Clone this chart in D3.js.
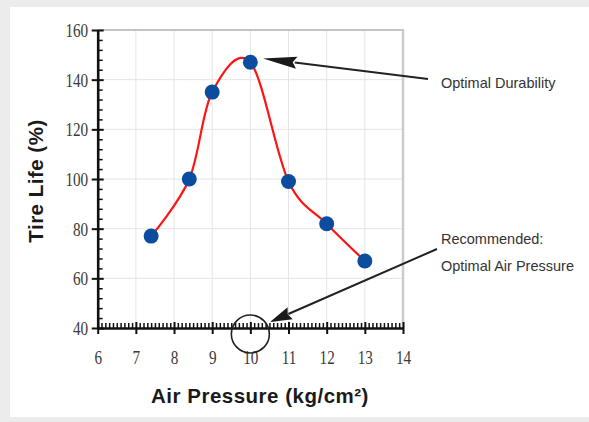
<!DOCTYPE html>
<html>
<head>
<meta charset="utf-8">
<script src="https://cdn.jsdelivr.net/npm/d3@7"></script>
<style>
  html, body { margin: 0; padding: 0; background: #ebeceb; }
  svg { display: block; }
</style>
</head>
<body>
<svg id="chart" width="589" height="422"></svg>
<script>
// ---- data ----
const pressure = [7.4, 8.4, 9.0, 10.0, 11.0, 12.0, 13.0];
const tireLife = [77, 100, 135, 147, 99, 82, 67];
const xTicks = [6, 7, 8, 9, 10, 11, 12, 13, 14];
const yTicks = [40, 60, 80, 100, 120, 140, 160];
const xLabel = "Air Pressure (kg/cm²)";
const yLabel = "Tire Life (%)";
const note1 = ["Optimal Durability"];
const note2 = ["Recommended:", "Optimal Air Pressure"];

const svg = d3.select("#chart");
svg.append("rect").attr("x", 0).attr("y", 0).attr("width", 589).attr("height", 422).attr("fill", "#ebeceb");
svg.append("rect").attr("x", 10).attr("y", 7).attr("width", 579).attr("height", 410).attr("fill", "#ffffff");

const x = d3.scaleLinear().domain([6, 14]).range([97.7, 403]);
const y = d3.scaleLinear().domain([40, 160]).range([328, 30]);

// grid
const grid = svg.append("g");
grid.selectAll(".vg").data(xTicks.slice(1, -1)).enter().append("line")
  .attr("x1", d => x(d)).attr("x2", d => x(d)).attr("y1", y(160)).attr("y2", y(40))
  .attr("stroke", "#e4e4e4").attr("stroke-width", 1);
grid.selectAll(".hg").data(yTicks.slice(1, -1)).enter().append("line")
  .attr("x1", x(6)).attr("x2", x(14)).attr("y1", d => y(d)).attr("y2", d => y(d))
  .attr("stroke", "#e4e4e4").attr("stroke-width", 1);
// frame top / right
svg.append("line").attr("x1", x(6)).attr("x2", x(14) + 1).attr("y1", y(160)).attr("y2", y(160))
  .attr("stroke", "#c4c4c4").attr("stroke-width", 2);
svg.append("line").attr("x1", x(14)).attr("x2", x(14)).attr("y1", y(160)).attr("y2", y(40))
  .attr("stroke", "#cccccc").attr("stroke-width", 2.5);

// minor ticks
const xMinor = d3.range(60, 141).map(v => v / 10).filter(v => Math.abs(v - Math.round(v)) > 1e-6);
const yMinor = d3.range(40, 161, 4).filter(v => v % 20 !== 0);
svg.append("g").attr("transform", `translate(0,${y(40)})`)
  .call(d3.axisBottom(x).tickValues(xMinor).tickSize(-5).tickFormat(""))
  .call(g => g.select(".domain").remove())
  .call(g => g.selectAll("line").attr("stroke", "#111").attr("stroke-width", 1.5));
svg.append("g").attr("transform", `translate(${x(6)},0)`)
  .call(d3.axisLeft(y).tickValues(yMinor).tickSize(-5).tickFormat(""))
  .call(g => g.select(".domain").remove())
  .call(g => g.selectAll("line").attr("stroke", "#111").attr("stroke-width", 1.5));

// major axes
const sx = 0.8;
const tickFont = "'Liberation Serif', 'Times New Roman', serif";
const gx = svg.append("g").attr("transform", `translate(0,${y(40)})`)
  .call(d3.axisBottom(x).tickValues(xTicks).tickSize(6).tickPadding(0).tickSizeOuter(0));
gx.select(".domain").attr("stroke", "#111").attr("stroke-width", 2.6);
gx.selectAll(".tick line").attr("y1", -6).attr("y2", 6).attr("stroke", "#111").attr("stroke-width", 2);
gx.selectAll(".tick text").attr("y", 36).attr("dy", null)
  .attr("font-family", tickFont).attr("font-size", 19)
  .attr("fill", "#3a3a3a").attr("transform", `scale(${sx},1)`);

const gy = svg.append("g").attr("transform", `translate(${x(6)},0)`)
  .call(d3.axisLeft(y).tickValues(yTicks).tickSize(6).tickPadding(0).tickSizeOuter(0));
gy.select(".domain").attr("stroke", "#111").attr("stroke-width", 2.6);
gy.selectAll(".tick line").attr("x1", -6).attr("x2", 6).attr("stroke", "#111").attr("stroke-width", 2);
gy.selectAll(".tick text").attr("x", -9.5 / sx).attr("dy", "0.34em")
  .attr("font-family", tickFont).attr("font-size", 19)
  .attr("fill", "#3a3a3a").attr("transform", `scale(${sx},1)`);

// axis labels
svg.append("text").attr("x", 260).attr("y", 403).attr("text-anchor", "middle")
  .attr("font-family", "'Liberation Sans', Arial, sans-serif").attr("font-weight", "bold")
  .attr("font-size", 20.5).attr("letter-spacing", 0.5).attr("fill", "#1a1a1a").text(xLabel);
svg.append("text").attr("transform", "translate(43,181) rotate(-90)").attr("text-anchor", "middle")
  .attr("font-family", "'Liberation Sans', Arial, sans-serif").attr("font-weight", "bold")
  .attr("font-size", 20.5).attr("letter-spacing", 0.5).attr("fill", "#1a1a1a").text(yLabel);

// curve
const pts = pressure.map((p, i) => [p, tireLife[i]]);
const line = d3.line().x(d => x(d[0])).y(d => y(d[1])).curve(d3.curveCardinal.tension(0));
svg.append("path").attr("d", line(pts)).attr("fill", "none").attr("stroke", "#ff1414").attr("stroke-width", 2.2);
svg.selectAll(".dot").data(pts).enter().append("circle")
  .attr("cx", d => x(d[0])).attr("cy", d => y(d[1])).attr("r", 7.5).attr("fill", "#0a4d9e");

// annotations
function arrow(x1, y1, x2, y2, len, hw) {
  const dx = x2 - x1, dy = y2 - y1, L = Math.hypot(dx, dy);
  const ux = dx / L, uy = dy / L;
  const bx = x2 - ux * len, by = y2 - uy * len;
  svg.append("line").attr("x1", x1).attr("y1", y1).attr("x2", bx + ux * 2).attr("y2", by + uy * 2)
    .attr("stroke", "#222").attr("stroke-width", 2);
  svg.append("path")
    .attr("d", `M${x2},${y2}L${bx - uy * hw},${by + ux * hw}L${bx + ux * len * 0.12},${by + uy * len * 0.12}L${bx + uy * hw},${by - ux * hw}Z`)
    .attr("fill", "#1a1a1a");
}
arrow(428, 79, 263, 58.5, 34, 6);
arrow(437, 249, 270, 322, 22, 6.5);
svg.append("circle").attr("cx", x(10)).attr("cy", y(40) + 6).attr("r", 19)
  .attr("fill", "none").attr("stroke", "#222").attr("stroke-width", 1.6);

const annFont = "'Liberation Sans', Arial, sans-serif";
svg.append("text").attr("x", 441).attr("y", 88).attr("font-family", annFont).attr("font-size", 14.5)
  .attr("fill", "#333").text(note1[0]);
svg.selectAll(".n2").data(note2).enter().append("text")
  .attr("x", 441).attr("y", (d, i) => 243.5 + i * 27).attr("font-family", annFont).attr("font-size", 14.5)
  .attr("fill", "#333").text(d => d);
</script>
</body>
</html>
